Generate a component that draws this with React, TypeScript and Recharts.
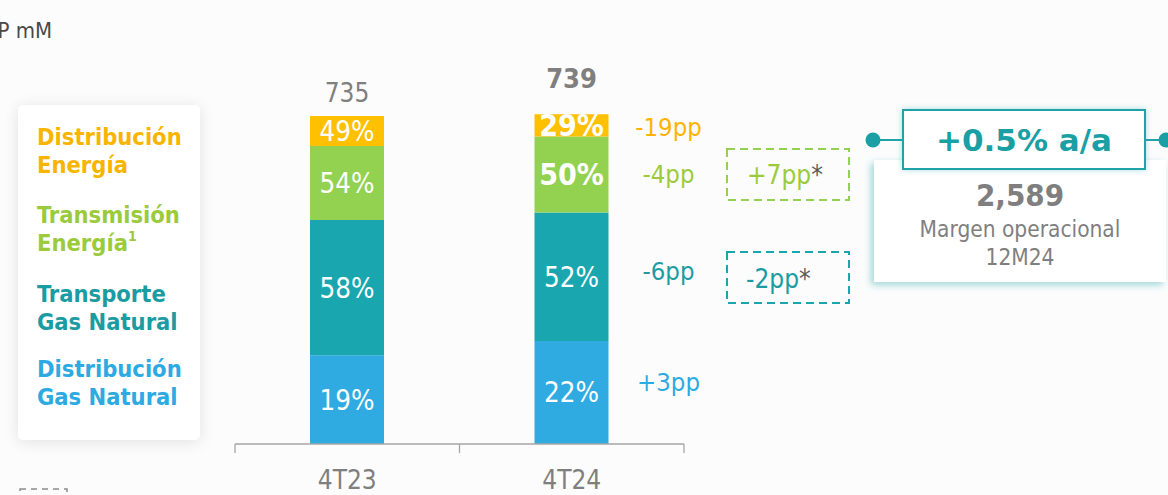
import React from 'react';
import { BarChart, Bar, XAxis, YAxis, LabelList } from 'recharts';

// ---------- data ----------
const categories = ['4T23', '4T24'];
// segment values (COP mM), bottom -> top
const distGas = [199, 231];
const transGas = [303, 288];
const transEnergia = [166, 170];
const distEnergia = [67, 50];
const totals = [735, 739];
// margin labels inside the segments
const distGasPct = ['19%', '22%'];
const transGasPct = ['58%', '52%'];
const transEnergiaPct = ['54%', '50%'];
const distEnergiaPct = ['49%', '29%'];
// change labels next to the 4T24 bar (bottom -> top)
const ppChange = ['+3pp', '-6pp', '-4pp', '-19pp'];
// adjusted changes in dashed boxes
const ppAdjTransEnergia = '+7pp';
const ppAdjTransGas = '-2pp';
// right panel
const growthLabel = '+0.5% a/a';
const annualMargin = '2,589';
const annualCaption = ['Margen operacional', '12M24'];
const unitLabel = 'COP mM';

const legendItems = [
  { lines: ['Distribución', 'Energía'], sup: '' },
  { lines: ['Transmisión', 'Energía'], sup: '1' },
  { lines: ['Transporte', 'Gas Natural'], sup: '' },
  { lines: ['Distribución', 'Gas Natural'], sup: '' },
];

// ---------- styles / layout ----------
const W = 1168;
const H = 495;
const M = { top: 87, right: 484, bottom: 0, left: 235 };
const XAXIS_H = 51;
const AXIS_Y = H - M.bottom - XAXIS_H;
const PLOT_W = W - M.left - M.right;
const FONT = "'DejaVu Sans Condensed', 'DejaVu Sans', sans-serif";
const FONT_WIDE = "'DejaVu Sans', sans-serif";
const GRAY = '#7f7f7f';
const C_YELLOW = '#FFC000';
const C_GREEN = '#93D150';
const C_TEAL = '#19A6AF';
const C_BLUE = '#2FABE2';
const T_YELLOW = '#F7B500';
const T_GREEN = '#9BCB3C';
const T_TEAL = '#1B9BA2';
const T_BLUE = '#2DAAE1';

const SERIES = [
  { key: 'distGas', lbl: 'distGasLbl', color: C_BLUE, text: T_BLUE, bold: [false, false], ppDy: -10 },
  { key: 'transGas', lbl: 'transGasLbl', color: C_TEAL, text: T_TEAL, bold: [false, false], ppDy: -6 },
  { key: 'transEnergia', lbl: 'transEnergiaLbl', color: C_GREEN, text: T_GREEN, bold: [false, true], ppDy: 0 },
  { key: 'distEnergia', lbl: 'distEnergiaLbl', color: C_YELLOW, text: '#FFB300', bold: [false, true], ppDy: 2 },
];
const LEGEND_COLORS = [T_YELLOW, T_GREEN, T_TEAL, T_BLUE];
const TOTAL_GAP = [14, 26];
const TOTAL_BOLD = [false, true];

const data = categories.map((c, i) => ({
  cat: c,
  distGas: distGas[i],
  transGas: transGas[i],
  transEnergia: transEnergia[i],
  distEnergia: distEnergia[i],
  distGasLbl: distGasPct[i],
  transGasLbl: transGasPct[i],
  transEnergiaLbl: transEnergiaPct[i],
  distEnergiaLbl: distEnergiaPct[i],
  total: totals[i],
}));

function makeSegLabel(s: number) {
  const cfg = SERIES[s];
  return (props: any) => {
    const vb = props.viewBox || {};
    const x = props.x ?? vb.x;
    const y = props.y ?? vb.y;
    const width = props.width ?? vb.width;
    const height = props.height ?? vb.height;
    const i = props.index;
    const row: any = data[i];
    const cx = x + width / 2;
    const cy = y + height / 2;
    const bold = cfg.bold[i];
    const isTop = s === SERIES.length - 1;
    return (
      <g>
        <text
          x={cx}
          y={cy}
          textAnchor="middle"
          dominantBaseline="central"
          fill="#ffffff"
          fontSize={bold ? 30 : 27.5}
          fontWeight={bold ? 700 : 400}
          fontFamily={FONT}
        >
          {row[cfg.lbl]}
        </text>
        {i === categories.length - 1 && (
          <text
            x={x + width + 60}
            y={cy + cfg.ppDy}
            textAnchor="middle"
            dominantBaseline="central"
            fill={cfg.text}
            fontSize={25.5}
            fontFamily={FONT}
          >
            {ppChange[s]}
          </text>
        )}
        {isTop && (
          <text
            x={cx}
            y={y - TOTAL_GAP[i]}
            textAnchor="middle"
            fill={GRAY}
            fontSize={TOTAL_BOLD[i] ? 27 : 26}
            fontWeight={TOTAL_BOLD[i] ? 700 : 400}
            fontFamily={FONT}
          >
            {row.total}
          </text>
        )}
      </g>
    );
  };
}

const CatTick = (props: any) => {
  const { x, payload, index } = props;
  const half = PLOT_W / categories.length / 2;
  return (
    <g>
      <line x1={x - half} x2={x - half} y1={AXIS_Y} y2={AXIS_Y + 9} stroke="#a6a6a6" strokeWidth={1.3} />
      {index === categories.length - 1 && (
        <line x1={x + half} x2={x + half} y1={AXIS_Y} y2={AXIS_Y + 9} stroke="#a6a6a6" strokeWidth={1.3} />
      )}
      <text x={x} y={AXIS_Y + 45} textAnchor="middle" fill={GRAY} fontSize={26} fontFamily={FONT}>
        {payload.value}
      </text>
    </g>
  );
};

export default function App() {
  return (
    <div
      style={{
        position: 'absolute',
        left: 0,
        top: 0,
        width: W,
        height: H,
        overflow: 'hidden',
        background: '#fcfcfc',
      }}
    >
      {/* legend card */}
      <div
        style={{
          position: 'absolute',
          left: 18,
          top: 105,
          width: 182,
          height: 335,
          background: '#ffffff',
          borderRadius: 5,
          boxShadow: '0 2px 16px rgba(0,0,0,0.11)',
        }}
      />
      {/* right card */}
      <div
        style={{
          position: 'absolute',
          left: 874,
          top: 160,
          width: 292,
          height: 122,
          background: '#ffffff',
          boxShadow: '-3px 3px 7px rgba(27,160,166,0.40)',
        }}
      />
      <div
        style={{
          position: 'absolute',
          left: 902,
          top: 109,
          width: 244,
          height: 61,
          boxSizing: 'border-box',
          background: '#ffffff',
          border: '2px solid #1FA3A8',
          boxShadow: '0 0 6px rgba(27,160,166,0.35)',
        }}
      />
      <div style={{ position: 'absolute', left: 0, top: 0 }}>
        <BarChart width={W} height={H} data={data} margin={M} barSize={74}>
          <YAxis hide domain={[0, 800]} type="number" />
          <XAxis
            dataKey="cat"
            height={XAXIS_H}
            axisLine={{ stroke: '#a6a6a6', strokeWidth: 1.3 }}
            tickLine={false}
            tick={<CatTick />}
            interval={0}
          />
          {SERIES.map((s, idx) => (
            <Bar key={s.key} dataKey={s.key} stackId="a" fill={s.color} isAnimationActive={false}>
              <LabelList dataKey={s.key} content={makeSegLabel(idx)} />
            </Bar>
          ))}
        </BarChart>
      </div>
      <svg
        width={W}
        height={H}
        style={{ position: 'absolute', left: 0, top: 0, pointerEvents: 'none' }}
      >
        {/* unit */}
        <text x={52} y={38} textAnchor="end" fill="#4a4a4a" fontSize={22} fontFamily={FONT}>
          {unitLabel}
        </text>
        {/* legend */}
        {legendItems.map((it, i) => {
          const base = [145, 223, 302, 377][i];
          return (
            <text key={i} fill={LEGEND_COLORS[i]} fontSize={23.5} fontWeight={700} fontFamily={FONT}>
              <tspan x={37} y={base}>{it.lines[0]}</tspan>
              <tspan x={37} y={base + 28}>
                {it.lines[1]}
              </tspan>
              {it.sup && (
                <tspan fontSize={14} dy={-10}>
                  {it.sup}
                </tspan>
              )}
            </text>
          );
        })}
        {/* dashed boxes */}
        <rect x={727} y={149} width={122} height={51} fill="none" stroke={C_GREEN} strokeWidth={2} strokeDasharray="8 5" />
        <text x={747} y={184} fill={T_GREEN} fontSize={26} fontFamily={FONT}>
          {ppAdjTransEnergia}
          <tspan fill="#595959">*</tspan>
        </text>
        <rect x={727} y={252} width={122} height={51} fill="none" stroke={C_TEAL} strokeWidth={2} strokeDasharray="8 5" />
        <text x={746} y={288} fill={T_TEAL} fontSize={26} fontFamily={FONT}>
          {ppAdjTransGas}
          <tspan fill="#595959">*</tspan>
        </text>
        {/* connectors */}
        <line x1={873} x2={902} y1={140} y2={140} stroke="#1FA3A8" strokeWidth={2} />
        <line x1={1146} x2={1168} y1={140} y2={140} stroke="#1FA3A8" strokeWidth={2} />
        <circle cx={873} cy={140} r={7.5} fill="#1A9FA5" />
        <circle cx={1166} cy={140} r={7.5} fill="#1A9FA5" />
        {/* right panel texts */}
        <text x={1024} y={151} textAnchor="middle" fill="#1A9FA5" fontSize={31} fontWeight={700} fontFamily={FONT_WIDE}>
          {growthLabel}
        </text>
        <text x={1020} y={206} textAnchor="middle" fill={GRAY} fontSize={31} fontWeight={700} fontFamily={FONT}>
          {annualMargin}
        </text>
        <text x={1020} y={237} textAnchor="middle" fill={GRAY} fontSize={22.5} fontFamily={FONT}>
          {annualCaption[0]}
        </text>
        <text x={1020} y={265} textAnchor="middle" fill={GRAY} fontSize={22.5} fontFamily={FONT}>
          {annualCaption[1]}
        </text>
        {/* bottom-left fragment */}
        <rect x={20} y={489} width={47} height={20} fill="none" stroke="#8a8a8a" strokeWidth={1.5} strokeDasharray="6 5" />
      </svg>
    </div>
  );
}
